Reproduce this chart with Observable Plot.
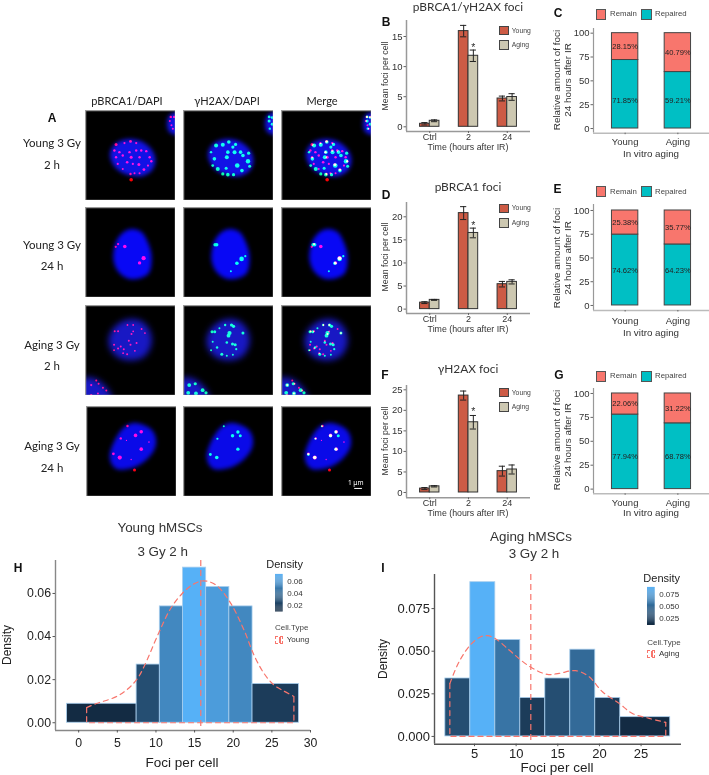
<!DOCTYPE html>
<html><head><meta charset="utf-8">
<script src="https://cdn.jsdelivr.net/npm/d3@7"></script>
<script src="https://cdn.jsdelivr.net/npm/@observablehq/plot@0.6"></script>
<style>
html,body{margin:0;padding:0;background:#fff}
#root{position:relative;width:709px;height:775px;overflow:hidden;font-family:"Liberation Sans",Arial,sans-serif;color:#222;filter:blur(0.3px)}
.t{position:absolute;white-space:nowrap;line-height:1}
</style></head><body><div id="root"></div>
<script>
// ---------- Data: bar panels ----------
const groups=["Ctrl","2","24"];
const seriesNames=["Young","Aging"];
const bYoung=[0.5,15.9,4.7], bAging=[1.0,11.8,4.95], bErrYoung=[0.2,0.95,0.4], bErrAging=[0.15,0.95,0.55];
const dYoung=[1.4,20.8,5.4], dAging=[2.0,16.5,5.9], dErrYoung=[0.2,1.4,0.6], dErrAging=[0.1,1.05,0.45];
const fYoung=[0.95,23.6,5.2], fAging=[1.5,17.1,5.6], fErrYoung=[0.25,1.1,1.2], fErrAging=[0.15,1.65,1.1];
const bTicks=[0,5,10,15], dTicks=[0,5,10,15,20], fTicks=[0,5,10,15,20,25];
// ---------- Data: stacked panels ----------
const ages=["Young","Aging"];
const cRemain=[28.15,40.79], cRepaired=[71.85,59.21], cRepairedLabelAt=[29,29];
const eRemain=[25.38,35.77], eRepaired=[74.62,64.23], eRepairedLabelAt=[36.8,36.8];
const gRemain=[22.06,31.22], gRepaired=[77.94,68.78], gRepairedLabelAt=[34,34];
const pctTicks=[0,25,50,75,100];
// ---------- Data: histograms ----------
const hBinsX1=[-1.5,7.5,10.5,13.5,16.5,19.5,22.5], hBinsX2=[7.5,10.5,13.5,16.5,19.5,22.5,28.5];
const hDensity=[0.0088,0.027,0.054,0.072,0.063,0.054,0.018];
const hCurveX=[1.03,2.2,4.8,6.3,7.6,8.45,10.4,11.9,13.4,14.7,15.8,16.6,17.9,19.7,21.4,22.7,24,25.3,26.55,27.85];
const hCurveY=[.007,.0088,.012,.0155,.0205,.026,.042,.053,.06,.064,.0657,.0657,.0636,.0553,.043,.0313,.0228,.0174,.0147,.0122];
const hMean=15.8, hXTicks=[0,5,10,15,20,25,30], hYTicks=[0,.02,.04,.06], hBarTicks=[.02,.04,.06];
const iBinsX1=[1.5,4.5,7.5,10.5,13.5,16.5,19.5,22.5], iBinsX2=[4.5,7.5,10.5,13.5,16.5,19.5,22.5,28.5];
const iDensity=[0.034,0.0905,0.0566,0.0226,0.034,0.0509,0.0226,0.0113];
const iCurveX=[2.04,3.16,4.56,5.76,6.56,7.56,9.16,10.56,11.96,13.76,15.16,17.16,18.76,20.36,22.36,23.96,25.96,27.96];
const iCurveY=[.031,.0439,.054,.0585,.0591,.0572,.0507,.0448,.04,.0364,.037,.0386,.035,.0262,.0194,.0135,.0106,.0082];
const iMean=11.76, iXTicks=[5,10,15,20,25], iYTicks=[0,.025,.05,.075], iBarTicks=[.025,.05,.075];
// ---------- Data: micrographs, image coordinates 0..268, [x,y,radius] ----------
const cellsRow1=[[[78,120],[100,95],[135,88],[175,100],[203,135],[200,170],[170,192],[130,190],[95,172],[78,145]],[[255,14],[280,10],[290,40],[280,68],[255,65],[246,40]]];
const redRow1=[[91,101,1.5],[86,119,1.2],[134,92,1.4],[116,97,1.1],[151,97,1.1],[101,124,1.2],[131,124,1.2],[151,119,1.2],[166,119,1.2],[181,121,1.2],[91,139,1.2],[111,134,1.2],[136,139,1.5],[161,139,1.2],[191,139,1.2],[196,151,1.2],[96,159,1.1],[124,154,1.3],[141,159,1.1],[159,161,1.5],[186,164,1.1],[111,174,1],[134,189,1.2],[146,187,1],[174,176,1.4],[161,187,1],[136,206,1.8],[254,19,1.2],[264,19,1.2],[251,31,1],[256,44,1],[260,54,1]];
const greenRow1=[[97,104,2],[117,102,2],[135,94,1.8],[155,101,1.6],[147,109,1.6],[82,124,1.2],[132,124,1.8],[152,124,2],[170,124,1.8],[194,127,1.6],[92,144,1.8],[129,139,2],[177,134,1.8],[192,151,2.2],[197,166,1.5],[102,174,2],[127,172,1.5],[160,164,2.3],[174,179,1.8],[132,191,1.8],[149,191,1.6],[117,189,1.6],[87,164,1.4],[255,19,1.4],[264,21,1.4],[255,31,1.5],[264,41,1.4],[257,54,1.2]];
const cellsRow2=[[[132,68],[165,75],[185,110],[194,150],[185,195],[140,211],[105,195],[87,160],[90,115],[105,85]]];
const redRow2=[[117,116,1.8],[97,109,1.1],[90,117,1.1],[173,151,2.1],[161,165,1.7]];
const greenRow2=[[94,111,1.7],[99,111,1.7],[173,153,2.3],[159,166,1.8],[184,145,1.1],[141,190,1]];
const cellsRow3=[[[132,44],[170,52],[190,80],[194,110],[178,145],[145,160],[105,155],[78,130],[72,100],[90,65]],[[0,218],[30,222],[55,240],[72,265],[75,290],[0,300],[-30,270]]];
const redRow3=[[125,58,.9],[142,58,.9],[167,70,.9],[87,77,1],[97,77,1],[142,77,.9],[137,85,1],[177,82,.9],[129,105,1],[152,112,1],[85,117,1],[105,122,1],[134,117,1],[97,128,1],[85,133,.9],[114,130,1],[112,142,.9],[124,145,1],[147,135,.9],[32,223,1],[17,237,1.1],[39,233,1],[52,245,1],[62,253,1],[17,267,1.2],[37,262,1]];
const greenRow3=[[85,78,1.5],[93,78,1.5],[124,58,1.2],[143,58,1.6],[149,62,1.6],[137,82,2.1],[134,90,1.9],[177,82,1.5],[107,68,1],[87,108,1],[129,110,1.3],[146,115,1.5],[154,117,1.5],[100,125,1.2],[82,133,1],[114,145,1.5],[129,150,1],[157,130,1.1],[147,147,1],[17,237,1.9],[35,233,1.6],[57,252,1.9],[67,260,1.6],[37,262,1.9],[14,260,1.9]];
const cellsRow4=[[[142,51],[192,71],[204,111],[182,151],[132,181],[87,181],[72,151],[87,101],[117,61]]];
const redRow4=[[122,58,1.2],[163,75,1.8],[146,86,1.8],[102,95,1.2],[186,106,.8],[119,101,.6],[163,127,1.8],[80,141,1.4],[99,152,2.1],[133,158,.7],[143,189,1.5]];
const greenRow4=[[120,59,1],[162,76,1.7],[146,87,1.7],[169,87,1.5],[101,96,1.1],[162,127,1.7],[80,143,1.4],[99,152,1.8]];
const rows=[
 {cells:cellsRow1,red:redRow1,green:greenRow1,blue:"#1212e6",top:110,left0:85,blur:2},
 {cells:cellsRow2,red:redRow2,green:greenRow2,blue:"#0808f5",top:207,left0:85,blur:2},
 {cells:cellsRow3,red:redRow3,green:greenRow3,blue:"#1818c4",top:305,left0:85,blur:3},
 {cells:cellsRow4,red:redRow4,green:greenRow4,blue:"#0a0ae8",top:406,left0:86,blur:2}
];
const rowLabels=[["Young 3 Gy",52,143],["2 h",52,165],["Young 3 Gy",52,245],["24 h",52,266],["Aging 3 Gy",52,345],["2 h",52,366],["Aging 3 Gy",52,446],["24 h",52,468]];
const colLabels=[["pBRCA1/DAPI",127,100],["γH2AX/DAPI",227,100],["Merge",322,100]];

// ---------- Helpers ----------
const root=document.getElementById("root");
const SANS='"Liberation Sans",Arial,sans-serif', LATO='Lato,"Open Sans",sans-serif';
function put(n,l,t){n.style.position="absolute";n.style.left=l+"px";n.style.top=t+"px";root.append(n);return n}
function label(s,x,y,o={}){
  const d=document.createElement("div");d.className="t";d.textContent=s;
  d.style.left=x+"px";d.style.top=y+"px";
  const ax=o.align==="left"?"0":"-50%";
  d.style.transform=`translate(${ax},-50%)`+(o.rot?` rotate(${o.rot}deg)`:"");
  d.style.fontSize=(o.size||10)+"px";d.style.fontFamily=o.font||SANS;
  if(o.bold)d.style.fontWeight="700";if(o.color)d.style.color=o.color;
  root.append(d);
}
function box(x,y,w,h,fill,stroke,dashed){
  const d=document.createElement("div");d.style.cssText=`position:absolute;left:${x}px;top:${y}px;width:${w}px;height:${h}px;box-sizing:border-box;background:${fill};border:1px ${dashed?"dashed":"solid"} ${stroke}`;
  root.append(d);
}
function framed(f,opts){ // f={x0,x1,y0,y1}: plotting frame in page px
  const m={l:40,r:6,t:6,b:24,...(f.m||{})};
  const svg=Plot.plot({width:f.x1-f.x0+m.l+m.r,height:f.y1-f.y0+m.t+m.b,marginLeft:m.l,marginRight:m.r,marginTop:m.t,marginBottom:m.b,
    style:{background:"transparent",overflow:"visible",fontFamily:SANS,color:"#333"},...opts});
  return put(svg,f.x0-m.l,f.y0-m.t);
}
// ---------- Panel A ----------
function tile(row,col,left,top){
  const shapes=row.cells.map(c=>Plot.line(c,{x:d=>d[0],y:d=>d[1],fill:row.blue,stroke:row.blue,strokeWidth:2,curve:"catmull-rom-closed"}));
  const dot=(arr,color)=>Plot.dot(arr,{x:d=>d[0],y:d=>d[1],r:d=>d[2],fill:color,stroke:"none"});
  const marks=[Plot.frame({fill:"#000",stroke:"none"}),...shapes];
  if(col!==1)marks.push(dot(row.red,"#ff0000"));
  if(col!==0)marks.push(dot(row.green,"#00ff70"));
  if(col===2&&row===rows[3]){
    marks.push(Plot.text(["1 μm"],{x:221,y:229,text:d=>d,fill:"#fff",fontSize:6.5}));
    marks.push(Plot.ruleY([244],{x1:218,x2:241,stroke:"#fff",strokeWidth:1}));
  }
  marks.push(Plot.frame({stroke:"#9a9a9a",strokeWidth:1.5}));
  const svg=Plot.plot({width:90,height:90,margin:0,x:{domain:[0,268],axis:null},y:{domain:[0,268],range:[0,90],axis:null},r:{type:"identity"},
    style:{background:"#000",overflow:"hidden",display:"block"},marks});
  d3.select(svg).selectAll('g[aria-label="line"]').style("filter",`blur(${row.blur}px)`);
  d3.select(svg).selectAll('g[aria-label="dot"]').style("mix-blend-mode","screen").style("filter","blur(0.45px)");
  put(svg,left,top);
}
rows.forEach(r=>{[r.left0,183,281].forEach((l,c)=>tile(r,c,l,r.top))});
rowLabels.forEach(([s,x,y])=>label(s,x,y,{size:11.5,font:LATO}));
colLabels.forEach(([s,x,y])=>label(s,x,y,{size:11,font:LATO}));
// ---------- Bar panels ----------
function barPanel(f,young,aging,errY,errA,ticks,starAt){
  const data=[];
  groups.forEach((g,i)=>{
    data.push({pos:i+1,a:-0.25,b:0,v:young[i],e:errY[i],c:"#CD5B45"});
    data.push({pos:i+1,a:0,b:0.25,v:aging[i],e:errA[i],c:"#CDC8B1"});
  });
  const mid=d=>d.pos+(d.a+d.b)/2;
  framed(f,{
    x:{domain:[0.4,3.6]},y:{domain:f.dom},
    marks:[
      Plot.rect(data,{x1:d=>d.pos+d.a,x2:d=>d.pos+d.b,y1:0,y2:d=>d.v,fill:d=>d.c,stroke:"#333",strokeWidth:1}),
      Plot.ruleX(data,{x:mid,y1:d=>d.v-d.e,y2:d=>d.v+d.e,stroke:"#222",strokeWidth:1}),
      Plot.ruleY(data,{y:d=>d.v-d.e,x1:d=>mid(d)-0.08,x2:d=>mid(d)+0.08,stroke:"#222",strokeWidth:1}),
      Plot.ruleY(data,{y:d=>d.v+d.e,x1:d=>mid(d)-0.08,x2:d=>mid(d)+0.08,stroke:"#222",strokeWidth:1}),
      Plot.text(["*"],{x:2.125,y:starAt,text:d=>d,fontSize:10.5,fill:"#333"}),
      Plot.ruleX([0.4],{stroke:"#999",strokeWidth:1.5}),
      Plot.ruleY([f.dom[0]],{stroke:"#999",strokeWidth:1.5}),
      Plot.axisY(ticks,{tickSize:2.5,tickPadding:1.5,fontSize:9.5,label:null,stroke:"#666"}),
      Plot.axisX([1,2,3],{tickSize:2,tickPadding:f.pad,fontSize:9,label:null,tickFormat:i=>groups[i-1],stroke:"#666"})
    ]
  });
}
barPanel({x0:406,x1:530,y0:20,y1:131,dom:[-0.78,17.66],pad:0.5},bYoung,bAging,bErrYoung,bErrAging,bTicks,13.2);
barPanel({x0:406,x1:530,y0:201.7,y1:312.7,dom:[-0.95,23.1],pad:0.5},dYoung,dAging,dErrYoung,dErrAging,dTicks,18);
barPanel({x0:406,x1:530,y0:385,y1:497.3,dom:[-1.29,26.05],pad:0},fYoung,fAging,fErrYoung,fErrAging,fTicks,19.8);
[["pBRCA1/γH2AX foci",7,30.7,45,147,25.7,40],["pBRCA1 foci",187,208.3,223,328.7,203.7,218],["γH2AX foci",369,392.7,407,513,387.7,402]].forEach(([title,ty,yy,ay,xl,s1,s2],i)=>{
  label(title,468,ty,{size:11.9,font:LATO,color:"#333"});
  label("Mean foci per cell",385,[76,257,441][i],{size:8.8,rot:-90,color:"#333"});
  label("Time (hours after IR)",468,xl,{size:8.8,color:"#333"});
  box(499,s1,9.5,9.5,"#CD5B45","#444");box(499,s2,9.5,9.5,"#CDC8B1","#444");
  label(seriesNames[0],511.7,yy,{size:6.8,align:"left",color:"#444"});
  label(seriesNames[1],511.7,ay,{size:6.8,align:"left",color:"#444"});
});
// ---------- Stacked panels ----------
function stackPanel(f,remain,repaired,labelAt){
  const data=[];
  ages.forEach((a,i)=>{
    data.push({pos:i+1,lo:0,hi:repaired[i],c:"#00BFC4",at:labelAt[i],v:repaired[i]});
    data.push({pos:i+1,lo:repaired[i],hi:100,c:"#F8766D",at:repaired[i]+remain[i]/2,v:remain[i]});
  });
  framed(f,{
    x:{domain:[0.4,2.6]},y:{domain:f.dom},
    marks:[
      Plot.rect(data,{x1:d=>d.pos-0.25,x2:d=>d.pos+0.25,y1:"lo",y2:"hi",fill:"c",stroke:"#444",strokeWidth:1}),
      Plot.text(data,{x:"pos",y:"at",text:d=>d.v.toFixed(2)+"%",fontSize:7.6,fill:"#222"}),
      Plot.ruleX([0.4],{stroke:"#999",strokeWidth:1.2}),
      Plot.ruleY([f.dom[0]],{stroke:"#bbb",strokeWidth:1.5}),
      Plot.axisY(pctTicks,{tickSize:2.5,tickPadding:1.5,fontSize:9.5,label:null,stroke:"#666"}),
      Plot.axisX([1,2],{tickSize:1.5,tickPadding:f.pad,fontSize:9.5,label:null,tickFormat:i=>ages[i-1],stroke:"#666"})
    ]
  });
}
stackPanel({x0:592.5,x1:708.5,y0:28,y1:132.7,dom:[-4.9,104.9],pad:4},cRemain,cRepaired,cRepairedLabelAt);
stackPanel({x0:592.5,x1:708.5,y0:204,y1:310,dom:[-5.3,106.3],pad:5.7},eRemain,eRepaired,eRepairedLabelAt);
stackPanel({x0:592.5,x1:708.5,y0:387.7,y1:493,dom:[-4.9,105.2],pad:3.7},gRemain,gRepaired,gRepairedLabelAt);
[[14.3,9,80,154],[191.7,186,258,333],[376.3,371,440,513]].forEach(([ly,sy,cy,xl])=>{
  box(595.7,sy,10.5,10.5,"#F8766D","#555");box(641,sy,10.5,10.5,"#00BFC4","#555");
  label("Remain",610,ly,{size:7.8,align:"left",color:"#444"});
  label("Repaired",655,ly,{size:7.8,align:"left",color:"#444"});
  label("Relative amount of foci",556.7,cy,{size:9.9,rot:-90,color:"#333"});
  label("24 hours after IR",567.5,cy,{size:9.9,rot:-90,color:"#333"});
  label("In vitro aging",651,xl,{size:9.8,color:"#333"});
});
// ---------- Histograms ----------
function histPanel(f,x1s,x2s,dens,cx,cy,mean,xt,yt,cdom,fmt){
  const bins=dens.map((d,i)=>({a:x1s[i],b:x2s[i],d}));
  const curve=cx.map((x,i)=>[x,cy[i]]);
  const n=curve.length-1;
  const base=[curve[0],[cx[0],0],[cx[n],0],curve[n]];
  framed(f,{
    x:{domain:f.xd},y:{domain:f.yd},
    color:{type:"linear",domain:cdom,range:["#132B43","#56B1F7"],interpolate:d3.interpolateLab},
    marks:[
      Plot.rect(bins,{x1:"a",x2:"b",y1:0,y2:"d",fill:"d",stroke:"#a9cfee",strokeWidth:0.8}),
      Plot.line(curve,{x:d=>d[0],y:d=>d[1],stroke:"#F8766D",strokeWidth:1.2,strokeDasharray:"5,4",curve:"catmull-rom"}),
      Plot.line(base,{x:d=>d[0],y:d=>d[1],stroke:"#F8766D",strokeWidth:1.2,strokeDasharray:"5,4"}),
      Plot.ruleX([mean],{stroke:"#F8766D",strokeWidth:1.2,strokeDasharray:"6,4"}),
      Plot.ruleX([f.xd[0]],{stroke:f.ax,strokeWidth:1.4}),
      Plot.ruleY([f.yd[0]],{stroke:f.ax,strokeWidth:1.4}),
      Plot.axisY(yt,{tickSize:2.5,tickPadding:2,fontSize:f.fs,label:null,tickFormat:fmt,stroke:"#555",fill:"#222"}),
      Plot.axisX(xt,{tickSize:2.5,tickPadding:f.pad,fontSize:f.fs,label:null,stroke:"#555",fill:"#222"})
    ]
  });
}
histPanel({x0:55,x1:310,y0:560,y1:730,xd:[-3,30],yd:[-0.0036,0.0753],ax:"#888",fs:12.3,pad:5.5,m:{l:48,b:24,r:6,t:4}},hBinsX1,hBinsX2,hDensity,hCurveX,hCurveY,hMean,hXTicks,hYTicks,[d3.min(hDensity),d3.max(hDensity)],d3.format(".2f"));
histPanel({x0:433.7,x1:680.7,y0:574.3,y1:744,xd:[0.2,29.85],yd:[-0.00455,0.095],ax:"#555",fs:13,pad:2,m:{l:48,b:24,r:6,t:4}},iBinsX1,iBinsX2,iDensity,iCurveX,iCurveY,iMean,iXTicks,iYTicks,[d3.min(iDensity),d3.max(iDensity)],d3.format(".3f"));
function colorbar(x0,x1,y0,y1,dom,ticks,fmt){
  const n=40,step=(dom[1]-dom[0])/n;
  const steps=d3.range(n).map(i=>dom[0]+i*step);
  framed({x0,x1,y0,y1,m:{l:1,r:30,t:1,b:1}},{
    x:{domain:[0,1],axis:null},y:{domain:dom},
    color:{type:"linear",domain:dom,range:["#132B43","#56B1F7"],interpolate:d3.interpolateLab},
    marks:[
      Plot.rect(steps,{x1:0,x2:1,y1:d=>d,y2:d=>d+step*1.1,fill:d=>d}),
      Plot.axisY(ticks,{anchor:"right",tickSize:0,tickPadding:4,fontSize:8,label:null,tickFormat:fmt,fill:"#333"})
    ]
  });
}
colorbar(275,282.7,573.5,611,[d3.min(hDensity),d3.max(hDensity)],hBarTicks,d3.format(".2f"));
colorbar(647.3,655,587,625,[d3.min(iDensity),d3.max(iDensity)],iBarTicks,d3.format(".3f"));
function dashedKey(x,y){box(x,y,8,8,"transparent","#F8766D",true);box(x+3.5,y+1,1,6,"#F8766D","#F8766D",false)}
label("Young hMSCs",160,528,{size:13.4,color:"#333"});label("3 Gy 2 h",162.7,551.7,{size:13.4,color:"#333"});
label("Density",284.6,564,{size:11,color:"#222"});label("Cell.Type",275,628,{size:8,align:"left",color:"#444"});
dashedKey(275,635.5);label("Young",286.7,640,{size:8,align:"left",color:"#333"});
label("Foci per cell",182,763,{size:13.5,color:"#222"});label("Density",6.5,645,{size:12,rot:-90,color:"#222"});
label("Aging hMSCs",531,536.7,{size:13.4,color:"#333"});label("3 Gy 2 h",534,554,{size:13.4,color:"#333"});
label("Density",661.7,577.7,{size:11,color:"#222"});label("Cell.Type",647.3,642.7,{size:8,align:"left",color:"#444"});
dashedKey(647.3,650);label("Aging",659,654,{size:8,align:"left",color:"#333"});
label("Foci per cell",557,768,{size:13.5,color:"#222"});label("Density",383,659,{size:12,rot:-90,color:"#222"});
// ---------- Panel letters ----------
[["A",52,118],["B",386,22],["C",558,13],["D",386,195],["E",557.5,189],["F",385,375],["G",559,375],["H",18,568],["I",383,568]].forEach(([s,x,y])=>label(s,x,y,{size:12,bold:true,color:"#111"}));
</script></body></html>
